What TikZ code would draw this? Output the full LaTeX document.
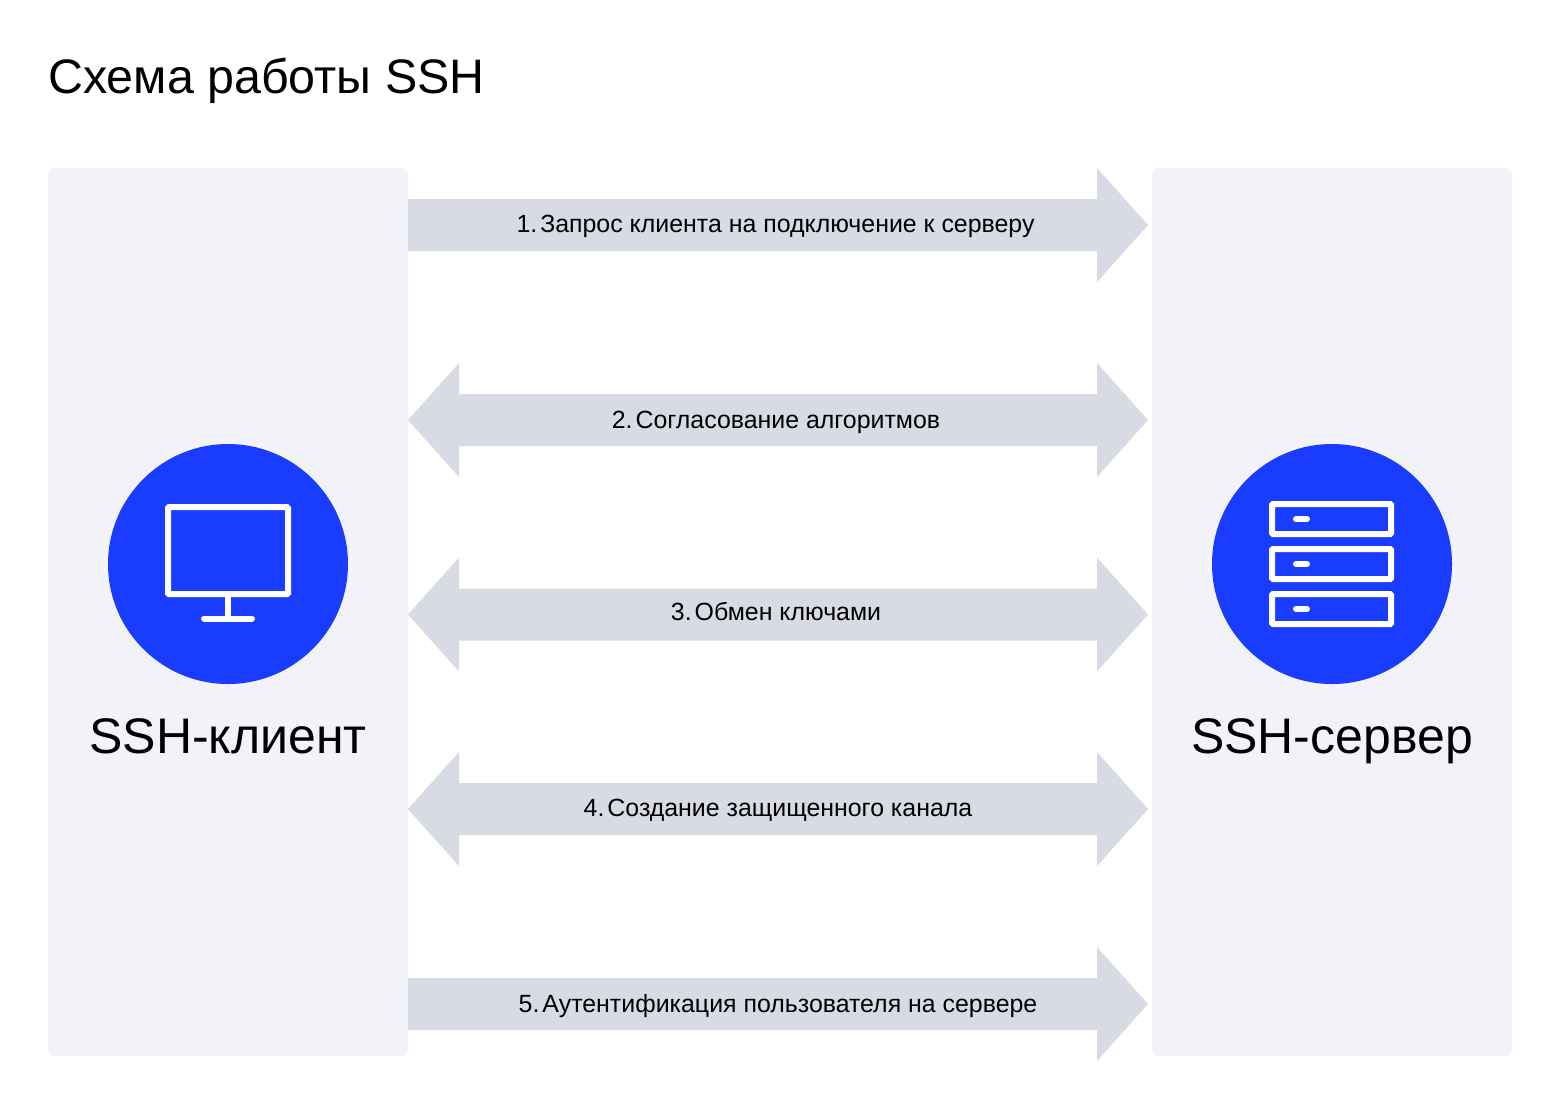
\documentclass[tikz,border=0pt]{standalone}
\usepackage{fontspec}
\setmainfont{Liberation Sans}
\definecolor{panel}{HTML}{F1F3F8}
\definecolor{arrowfill}{HTML}{D8DBE3}
\definecolor{brand}{HTML}{1A3CFF}
\newcommand{\FwdArrow}[1]{%
  \fill[arrowfill] (408,#1-26) -- (1097,#1-26) -- (1097,#1-57) -- (1148,#1) -- (1097,#1+57) -- (1097,#1+26) -- (408,#1+26) -- cycle;}
\newcommand{\BothArrow}[1]{%
  \fill[arrowfill] (408,#1) -- (459,#1-57) -- (459,#1-26) -- (1097,#1-26) -- (1097,#1-57) -- (1148,#1) -- (1097,#1+57) -- (1097,#1+26) -- (459,#1+26) -- (459,#1+57) -- cycle;}
\tikzset{
  panelbox/.style={fill=panel,rounded corners=6pt},
  disc/.style={fill=brand},
  icon/.style={draw=white,line width=6pt,rounded corners=1pt},
  iconline/.style={draw=white,line width=6pt,line cap=round},
  steplabel/.style={font=\fontsize{24.9}{28}\selectfont,text=black,inner sep=0pt,anchor=base},
  biglabel/.style={font=\fontsize{50}{60}\selectfont,text=black,inner sep=0pt,anchor=base},
  titlelabel/.style={font=\fontsize{48.4}{60}\selectfont,text=black,inner sep=0pt,anchor=base west}
}
\begin{document}
\begin{tikzpicture}[x=1pt,y=-1pt]
\useasboundingbox (0,0) rectangle (1560,1104);
\fill[white] (0,0) rectangle (1560,1104);
\node[titlelabel] (title) at (48,93) {Схема работы SSH};
\fill[panelbox] (48,168) rectangle (408,1056);
\fill[panelbox] (1152,168) rectangle (1512,1056);
\FwdArrow{225}
\BothArrow{420}
\BothArrow{614.5}
\BothArrow{809}
\FwdArrow{1004}
\node[steplabel] (s1) at (775.5,232.5) {1.\hspace{0.12em}Запрос клиента на подключение к серверу};
\node[steplabel] (s2) at (776,428.5) {2.\hspace{0.12em}Согласование алгоритмов};
\node[steplabel] (s3) at (776,620.5) {3.\hspace{0.12em}Обмен ключами};
\node[steplabel] (s4) at (778,816.5) {4.\hspace{0.12em}Создание защищенного канала};
\node[steplabel] (s5) at (778,1012.5) {5.\hspace{0.12em}Аутентификация пользователя на сервере};
\fill[disc] (228,564) circle[radius=120];
\fill[disc] (1332,564) circle[radius=120];
% monitor
\draw[icon] (168,507) rectangle (288,594);
\draw[draw=white,line width=6pt] (228,597) -- (228,618);
\draw[iconline] (204,618.5) -- (252,618.5);
% server
\draw[icon] (1272,504) rectangle (1391,534);
\draw[icon] (1272,549) rectangle (1391,579);
\draw[icon] (1272,594) rectangle (1391,624);
\draw[iconline] (1296,519) -- (1307,519);
\draw[iconline] (1296,564) -- (1307,564);
\draw[iconline] (1296,609) -- (1307,609);
\node[biglabel] (client) at (228,753) {SSH-клиент};
\node[biglabel] (server) at (1332,753) {SSH-сервер};
\end{tikzpicture}
\end{document}
